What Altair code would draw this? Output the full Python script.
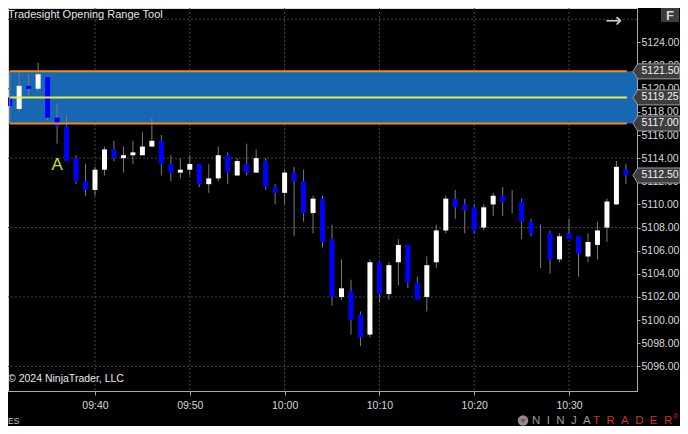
import json
import altair as alt
import pandas as pd

# ---------------- data ----------------
times = ["09:30", "09:31", "09:32", "09:33", "09:34", "09:35", "09:36", "09:37", "09:38", "09:39",
         "09:40", "09:41", "09:42", "09:43", "09:44", "09:45", "09:46", "09:47", "09:48", "09:49",
         "09:50", "09:51", "09:52", "09:53", "09:54", "09:55", "09:56", "09:57", "09:58", "09:59",
         "10:00", "10:01", "10:02", "10:03", "10:04", "10:05", "10:06", "10:07", "10:08", "10:09",
         "10:10", "10:11", "10:12", "10:13", "10:14", "10:15", "10:16", "10:17", "10:18", "10:19",
         "10:20", "10:21", "10:22", "10:23", "10:24", "10:25", "10:26", "10:27", "10:28", "10:29",
         "10:30", "10:31", "10:32", "10:33", "10:34", "10:35", "10:36"]
opens = [5118.0, 5119.25, 5118.25, 5120.25, 5120.0, 5121.0, 5117.5, 5116.75, 5114.0, 5112.0,
         5111.25, 5113.0, 5114.75, 5114.0, 5114.25, 5114.25, 5115.0, 5115.5, 5113.5, 5112.75,
         5113.0, 5113.5, 5111.75, 5112.25, 5114.25, 5112.5, 5113.5, 5112.75, 5113.75, 5111.5,
         5111.0, 5112.75, 5112.0, 5109.25, 5110.5, 5107.0, 5102.0, 5102.5, 5100.5, 5098.75,
         5105.0, 5102.25, 5105.0, 5106.5, 5103.25, 5102.0, 5105.0, 5107.75, 5110.5, 5110.0,
         5109.75, 5108.0, 5110.0, 5110.75, 5110.25, 5110.25, 5108.5, 5107.5, 5107.5, 5105.25,
         5107.5, 5107.25, 5105.5, 5106.5, 5108.0, 5110.0, 5113.0]
highs = [5118.0, 5119.25, 5121.5, 5121.25, 5122.25, 5121.0, 5118.75, 5117.75, 5114.25, 5113.5,
         5113.25, 5115.0, 5115.5, 5115.0, 5115.5, 5116.25, 5117.5, 5116.0, 5114.25, 5114.0,
         5114.25, 5113.5, 5113.5, 5115.0, 5114.5, 5114.0, 5115.25, 5114.75, 5114.0, 5111.75,
         5113.0, 5113.25, 5113.0, 5110.75, 5110.75, 5108.25, 5105.25, 5103.5, 5100.75, 5105.25,
         5105.0, 5105.0, 5107.0, 5106.5, 5103.75, 5105.5, 5108.25, 5110.75, 5111.25, 5110.5,
         5110.0, 5110.0, 5111.0, 5111.5, 5111.25, 5110.5, 5108.75, 5108.25, 5107.75, 5107.5,
         5108.75, 5107.25, 5107.5, 5108.5, 5110.5, 5113.75, 5113.5]
lows = [5114.5, 5118.5, 5118.0, 5119.25, 5119.75, 5117.25, 5115.25, 5113.75, 5111.75, 5110.75,
        5110.75, 5112.5, 5113.75, 5112.75, 5113.5, 5114.25, 5115.0, 5112.5, 5112.0, 5112.25,
        5112.5, 5111.5, 5111.0, 5112.0, 5111.75, 5112.5, 5112.5, 5112.75, 5111.25, 5110.0,
        5110.0, 5107.25, 5108.5, 5107.5, 5106.25, 5101.25, 5101.75, 5098.75, 5097.75, 5098.5,
        5101.5, 5101.75, 5103.0, 5102.75, 5101.75, 5100.75, 5104.5, 5107.5, 5108.75, 5107.5,
        5107.5, 5107.75, 5109.0, 5109.0, 5109.25, 5107.0, 5107.25, 5104.5, 5104.0, 5105.0,
        5107.0, 5103.75, 5105.0, 5105.25, 5106.75, 5110.0, 5111.75]
closes = [5114.5, 5118.5, 5120.25, 5120.0, 5121.25, 5117.5, 5116.75, 5113.75, 5112.0, 5111.25,
          5113.0, 5114.75, 5114.0, 5114.25, 5114.5, 5115.0, 5115.5, 5113.5, 5112.75, 5113.0,
          5113.5, 5111.75, 5112.25, 5114.25, 5112.75, 5113.75, 5112.75, 5114.0, 5111.5, 5111.0,
          5112.75, 5112.0, 5109.25, 5110.5, 5106.75, 5102.0, 5102.75, 5100.0, 5098.5, 5105.0,
          5102.25, 5104.75, 5106.5, 5103.25, 5101.75, 5104.75, 5107.75, 5110.5, 5109.75, 5109.5,
          5107.75, 5109.75, 5110.75, 5110.25, 5110.25, 5108.5, 5107.5, 5107.5, 5105.25, 5107.25,
          5107.0, 5105.75, 5106.75, 5107.75, 5110.25, 5113.25, 5112.5]

range_high = 5121.5
range_mid = 5119.25
range_low = 5117.0
range_start = "09:31"
range_line_end = "10:36"
range_box_end = "10:40"

tag_prices = [5121.5, 5119.25, 5117.0, 5112.5]

time_labels = ["09:40", "09:50", "10:00", "10:10", "10:20", "10:30"]
y_tick_values = [5096, 5098, 5100, 5102, 5104, 5106, 5108, 5110, 5112,
                 5114, 5116, 5118, 5120, 5122, 5124]
grid_prices = [5096, 5102, 5108, 5114, 5120, 5126]

annotation_text = "A"
annotation_time = "09:36"
annotation_price = 5113.0

title_text = "Tradesight Opening Range Tool"
copyright_text = "\u00a9 2024 NinjaTrader, LLC"
symbol_text = "ES"

# ---------------- helpers ----------------
def to_min(s):
    h, m = s.split(":")
    return int(h) * 60 + int(m)

candles = pd.DataFrame({
    "t": times, "m": [to_min(s) for s in times],
    "o": opens, "h": highs, "l": lows, "c": closes,
})
candles["dir"] = ["up" if c >= o else "down" for o, c in zip(opens, closes)]

tick_mins = [to_min(s) for s in time_labels]
label_expr = f"{json.dumps(time_labels)}[indexof({json.dumps(tick_mins)}, datum.value)]"

W, H = 629, 383
xs = alt.Scale(domain=[570.823, 637.17], nice=False, zero=False, padding=0)
ys = alt.Scale(domain=[5093.874, 5126.977], nice=False, zero=False, padding=0)

AX = "#a8a8a8"
LBL = "#d8d8d8"
FONT = "Liberation Sans"

x_axis = alt.Axis(values=tick_mins, labelExpr=label_expr, orient="bottom", grid=False,
                  domainColor=AX, tickColor=AX, tickSize=4, labelColor=LBL,
                  labelFontSize=10.5, labelFont=FONT, labelPadding=5, labelFlush=False,
                  zindex=0, title=None)
y_axis = alt.Axis(values=y_tick_values, format=".2f", orient="right", grid=False,
                  domainColor=AX, tickColor=AX, tickSize=3, labelColor=LBL,
                  labelFontSize=10.5, labelFont=FONT, labelPadding=1, labelFlush=False,
                  labelOverlap=False, zindex=0, title=None)


def X(f):
    return alt.X(f, type="quantitative", scale=xs, axis=x_axis, title=None)


def Y(f):
    return alt.Y(f, type="quantitative", scale=ys, axis=y_axis, title=None)


# ---------------- layers ----------------
grid_x = alt.Chart(pd.DataFrame({"m": tick_mins})).mark_rule(
    color="#444444", strokeDash=[2, 2], strokeWidth=1).encode(x=X("m"))
grid_y = alt.Chart(pd.DataFrame({"p": grid_prices})).mark_rule(
    color="#444444", strokeDash=[2, 2], strokeWidth=1).encode(y=Y("p"))

box_df = pd.DataFrame({"x1": [to_min(range_start)], "x2": [to_min(range_box_end)],
                       "lo": [range_low], "hi": [range_high]})
box = alt.Chart(box_df).mark_rect(color="#1767b3", clip=True).encode(
    x=X("x1"), x2="x2", y=Y("lo"), y2="hi")

wicks = alt.Chart(candles).mark_rule(color="#7a7a7a", strokeWidth=1, clip=True).encode(
    x=X("m"), y=Y("l"), y2="h")
bodies = alt.Chart(candles).mark_bar(size=5, clip=True).encode(
    x=X("m"), y=Y("o"), y2="c",
    color=alt.Color("dir:N", scale=alt.Scale(domain=["up", "down"], range=["#ffffff", "#0000ff"]),
                    legend=None))

lines_df = pd.DataFrame({"x1": [to_min(range_start)] * 2, "x2": [to_min(range_line_end) + 0.1] * 2,
                         "p": [range_high, range_low]})
orange = alt.Chart(lines_df).mark_rule(color="#f08a1c", strokeWidth=2, clip=True).encode(
    x=X("x1"), x2="x2", y=Y("p"))
mid_df = pd.DataFrame({"x1": [to_min(range_start)], "x2": [to_min(range_line_end) + 0.1],
                       "p": [range_mid]})
yellow = alt.Chart(mid_df).mark_rule(color="#e9f03a", strokeWidth=2, clip=True).encode(
    x=X("x1"), x2="x2", y=Y("p"))
edge = alt.Chart(box_df).mark_rule(color="#8c8c8c", strokeWidth=1, clip=True).encode(
    x=X("x1"), y=Y("lo"), y2="hi")

ann = alt.Chart(pd.DataFrame({"m": [to_min(annotation_time)], "p": [annotation_price],
                              "t": [annotation_text]})).mark_text(
    font=FONT, fontSize=17, color="#c8dd35", align="center", baseline="alphabetic").encode(
    x=X("m"), y=Y("p"), text="t:N")

tag_path = "M -1 0 L -0.8 -0.32 L 1 -0.32 L 1 0.32 L -0.8 0.32 Z"
tags_df = pd.DataFrame({"p": tag_prices})
tags = alt.Chart(tags_df).mark_point(shape=tag_path, size=2209, filled=True, fill="#3d3d3d",
                                     stroke="#9a9a9a", strokeWidth=1, opacity=1).encode(
    x=alt.value(648.5), y=Y("p"))
tag_text = alt.Chart(tags_df).mark_text(font=FONT, fontSize=10.5, color="#f2f2f2",
                                        align="left", baseline="middle").encode(
    x=alt.value(633.5), y=Y("p"), text=alt.Text("p:Q", format=".2f"))


def label(txt, x, y, size, color, align="left", baseline="middle", weight="normal", font=FONT):
    return alt.Chart(pd.DataFrame({"t": [txt]})).mark_text(
        font=font, fontSize=size, color=color, align=align, baseline=baseline,
        fontWeight=weight).encode(x=alt.value(x), y=alt.value(y), text="t:N")


title = label(title_text, 0, 9.5, 11, "#e6e6e6", baseline="alphabetic")
arrow = label("\u2192", 605.5, 12.5, 20, "#c8c8c8", align="center", font="DejaVu Sans")
fbox = alt.Chart(pd.DataFrame({"a": [0]})).mark_rect(color="#3c3c3c").encode(
    x=alt.value(653), x2=alt.value(671), y=alt.value(0), y2=alt.value(14))
ftext = label("F", 662, 7.5, 13, "#d6d6d6", align="center", weight="bold")
copyright_lbl = label(copyright_text, 0, 370.5, 10.5, "#e8e8e8")
es_lbl = label(symbol_text, 0, 413, 8.5, "#c0c0c0")

logo_icon = alt.Chart(pd.DataFrame({"a": [0]})).mark_point(
    shape="circle", size=110, filled=True, color="#8c8c8c", opacity=1).encode(
    x=alt.value(515), y=alt.value(412.5))
logo_v = alt.Chart(pd.DataFrame({"a": [0]})).mark_point(
    shape="triangle-down", size=22, filled=True, color="#c0302a", opacity=1).encode(
    x=alt.value(515), y=alt.value(413))
nb = "\u00a0\u00a0"
logo_ninja = label(nb.join("NINJA"), 524, 412.5, 11.5, "#9a9a9a")
logo_trader = label(nb.join("TRADER"), 585, 412.5, 11.5, "#cc2f2a")
logo_reg = label("\u00ae", 665, 409, 7, "#cc2f2a")

chart = alt.layer(
    grid_x, grid_y, box, wicks, bodies, orange, yellow, edge, ann,
    tags, tag_text, title, arrow, fbox, ftext, copyright_lbl, es_lbl,
    logo_icon, logo_v, logo_ninja, logo_trader, logo_reg,
).properties(
    width=W, height=H,
    autosize=alt.AutoSizeParams(type="none"),
    padding={"left": 0, "top": 0, "right": 43, "bottom": 35},
    background="#000000",
).configure_view(strokeWidth=0).configure(font=FONT)

chart.save("out.html", embed_options={"renderer": "svg", "actions": False})
